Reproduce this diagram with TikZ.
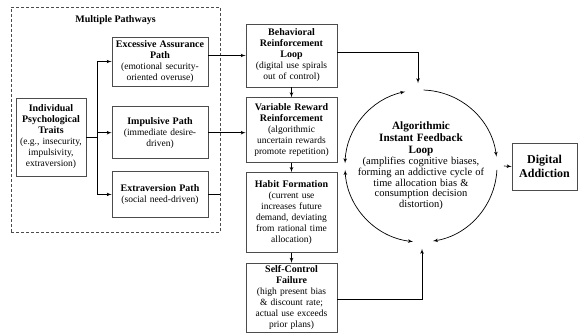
\documentclass[tikz,border=0pt]{standalone}
\usepackage{fontspec}
\setmainfont{Liberation Serif}
\usepackage{tikz}
\usetikzlibrary{shapes.geometric, arrows, positioning, backgrounds}

\newcommand{\hd}[1]{{\fontsize{10}{11}\selectfont\bfseries #1}}

\begin{document}
\begin{tikzpicture}[x=1pt, y=1pt,
    box/.style={rectangle, draw=black!70, line width=0.7pt, align=center, inner sep=2pt, font=\fontsize{9.5}{11}\selectfont},
    line/.style={draw, -latex', line width=0.7pt},
    cyc/.style={draw, line width=0.7pt},
    container/.style={draw=black!70, line width=0.7pt, dash pattern=on 3pt off 2pt, inner sep=0pt}
]
    \useasboundingbox (0,0) rectangle (580,-332);

    % Pathways
    \node [box, minimum width=70, minimum height=78, text width=66] (traits) at (51,-137)
        {\hd{Individual\\Psychological\\Traits}\\(e.g., insecurity,\\impulsivity,\\extraversion)};
    \node [box, minimum width=96, minimum height=49, text width=92] (assure) at (160,-61.5)
        {\hd{Excessive Assurance\\Path}\\(emotional security-\\oriented overuse)};
    \node [box, below=20pt of assure, minimum width=96, minimum height=52, text width=92] (impulse)
        {\hd{Impulsive Path}\\(immediate desire-\\driven)};
    \node [box, below=12pt of impulse, minimum width=96, minimum height=46, text width=92] (extra)
        {\hd{Extraversion Path}\\(social need-driven)};

    % Dashed frame
    \begin{scope}[on background layer]
        \node [container, minimum width=209, minimum height=225] (frame) at (115.5,-119.5) {};
    \end{scope}
    \node [below=5pt of frame.north, font=\fontsize{10}{11}\selectfont\bfseries] (frametitle) {Multiple Pathways};

    % Mechanism chain
    \node [box, minimum width=91, minimum height=63, text width=86] (behav) at (291.5,-55.5)
        {\hd{Behavioral\\Reinforcement\\Loop}\\(digital use spirals\\out of control)};
    \node [box, below=10pt of behav, minimum width=91, minimum height=65, text width=86] (reward)
        {\hd{Variable Reward\\Reinforcement}\\(algorithmic\\uncertain rewards\\promote repetition)};
    \node [box, below=9pt of reward, minimum width=91, minimum height=80, text width=86] (habit)
        {\hd{Habit Formation}\\(current use\\increases future\\demand, deviating\\from rational time\\allocation)};
    \node [box, below=10pt of habit, minimum width=91, minimum height=69, text width=86] (selfc)
        {\hd{Self-Control\\Failure}\\(high present bias\\\& discount rate;\\actual use exceeds\\prior plans)};

    % Feedback loop
    \node [circle, minimum size=152, inner sep=0pt, text width=140, align=center] (loop) at (421,-166)
        {{\fontsize{11.2}{12}\selectfont\bfseries Algorithmic\\Instant Feedback\\Loop\par}
         {\fontsize{10.5}{10.8}\selectfont (amplifies cognitive biases,\\forming an addictive cycle of\\time allocation bias \&\\consumption decision\\distortion)\par}};
    \draw [cyc, latex'-latex'] (loop.center) ++(178:76) arc[start angle=178, end angle=102, radius=76];
    \draw [cyc, -latex'] (loop.center) ++(88:76) arc[start angle=88, end angle=7, radius=76];
    \draw [cyc, -latex'] (loop.center) ++(-3:76) arc[start angle=-3, end angle=-81, radius=76];
    \draw [cyc, latex'-latex'] (loop.center) ++(-96:76) arc[start angle=-96, end angle=-177, radius=76];

    % Output
    \node [box, minimum width=65, minimum height=47, text width=61, font=\fontsize{12}{14}\selectfont\bfseries] (addict) at (544.5,-166.5)
        {Digital\\Addiction};

    % Connections
    \coordinate [right=11pt of traits.east] (split);
    \draw [line width=0.7pt] (traits.east) -- (split);
    \path [line] (split) |- (assure.west);
    \path [line] (split) |- (impulse.west);
    \path [line] (split) |- (extra.west);
    \path [line] (behav.west -| assure.east) -- (behav.west);
    \path [line] (impulse.east) -- (impulse.east -| reward.west);
    \draw [line width=0.7pt] (extra.east) -- (extra.east -| frame.east);

    \path [line] (behav) -- (reward);
    \path [line] (reward) -- (habit);
    \path [line] (habit) -- (selfc);

    \path [line] ([yshift=3pt]behav.east) -| ([xshift=-3pt]loop.north);
    \path [line] ([yshift=-2pt]selfc.east) -| ([xshift=1pt]loop.south);
    \path [line] (loop.east) -- (addict.west);
\end{tikzpicture}
\end{document}
